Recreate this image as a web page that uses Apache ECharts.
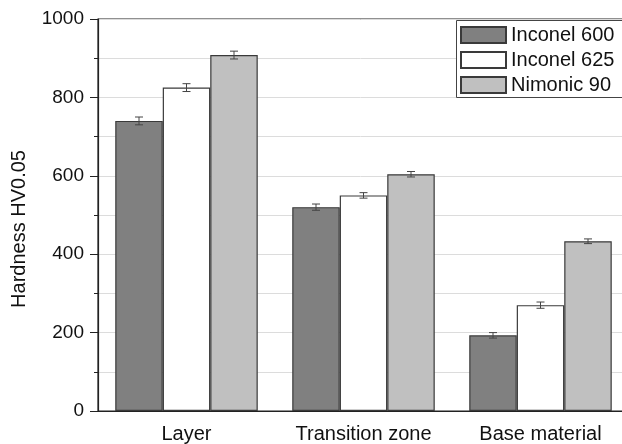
<!DOCTYPE html>
<html>
<head>
<meta charset="utf-8">
<script src="https://cdn.jsdelivr.net/npm/echarts@6/dist/echarts.min.js"></script>
<style>
  html, body { margin: 0; padding: 0; background: #fff; }
  #chart { width: 622px; height: 444px; }
</style>
</head>
<body>
<div id="chart"></div>
<script>
const categories = ["Layer", "Transition zone", "Base material"];
const seriesNames = ["Inconel 600", "Inconel 625", "Nimonic 90"];
const inconel600 = [740, 520, 193];
const inconel625 = [825, 550, 270];
const nimonic90 = [908, 604, 433];
const err600 = [10, 8, 7];
const err625 = [10, 7, 8];
const errNim = [10, 7, 6];

const values = [inconel600, inconel625, nimonic90];
const errors = [err600, err625, errNim];
const fills = ["#808080", "#ffffff", "#c0c0c0"];
const barW = 47.5;
const font = "Liberation Sans, Arial, sans-serif";

const chart = echarts.init(document.getElementById("chart"));

// error bar points: [category, low, high, series index]
const errData = [];
values.forEach((vals, s) => {
  vals.forEach((v, i) => {
    errData.push([i, v - errors[s][i], v + errors[s][i], s]);
  });
});

function renderErr(params, api) {
  const s = api.value(3);
  const lo = api.coord([api.value(0), api.value(1)]);
  const hi = api.coord([api.value(0), api.value(2)]);
  const x = lo[0] + (s - 1) * barW;
  const cap = 4;
  const style = { stroke: "#444", lineWidth: 1 };
  return {
    type: "group",
    children: [
      { type: "line", shape: { x1: x, y1: lo[1], x2: x, y2: hi[1] }, style },
      { type: "line", shape: { x1: x - cap, y1: lo[1], x2: x + cap, y2: lo[1] }, style },
      { type: "line", shape: { x1: x - cap, y1: hi[1], x2: x + cap, y2: hi[1] }, style },
    ],
  };
}

const barSeries = values.map((vals, s) => ({
  name: seriesNames[s],
  type: "bar",
  data: vals,
  barWidth: barW,
  barGap: "0%",
  itemStyle: {
    color: fills[s],
    borderColor: "#3a3a3a",
    borderWidth: 1.2,
  },
}));

chart.setOption({
  animation: false,
  textStyle: { fontFamily: font },
  grid: {
    left: 98,
    top: 19,
    bottom: 33,
    width: 531,
    outerBoundsMode: "none",
    show: true,
    borderColor: "#222",
    borderWidth: 1.2,
  },
  // legend frame runs off the right edge like in the original
  graphic: [{
    type: "rect",
    left: 456,
    top: 20,
    z: 3,
    shape: { width: 200, height: 77 },
    style: { fill: "#fff", stroke: "#444", lineWidth: 1 },
  }],
  legend: {
    data: seriesNames,
    orient: "vertical",
    left: 456,
    top: 20,
    z: 5,
    icon: "rect",
    itemWidth: 45,
    itemHeight: 16,
    itemGap: 5,
    padding: [5, 10, 3, 4],
    textStyle: { fontSize: 20, color: "#111", fontFamily: font },
  },
  xAxis: {
    type: "category",
    data: categories,
    axisLine: { lineStyle: { color: "#222", width: 1.2 } },
    axisTick: { show: false },
    axisLabel: { fontSize: 20, color: "#111", margin: 13 },
  },
  yAxis: {
    type: "value",
    min: 0,
    max: 1000,
    interval: 200,
    name: "Hardness HV0.05",
    nameLocation: "middle",
    nameGap: 69,
    nameTextStyle: { fontSize: 20, color: "#111", padding: [0, 28, 0, 0] },
    axisLine: { show: true, lineStyle: { color: "#222", width: 1.2 } },
    axisTick: { show: true, length: 8, lineStyle: { color: "#222" } },
    minorTick: { show: true, splitNumber: 2, length: 4, lineStyle: { color: "#222" } },
    axisLabel: { fontSize: 19, color: "#111", margin: 14, formatter: (v) => String(v) },
    splitLine: { show: true, lineStyle: { color: "#dcdcdc" } },
    minorSplitLine: { show: true, lineStyle: { color: "#dcdcdc" } },
  },
  series: [
    ...barSeries,
    {
      type: "custom",
      renderItem: renderErr,
      data: errData,
      encode: { x: 0, y: [1, 2] },
      z: 10,
    },
  ],
});
</script>
</body>
</html>
